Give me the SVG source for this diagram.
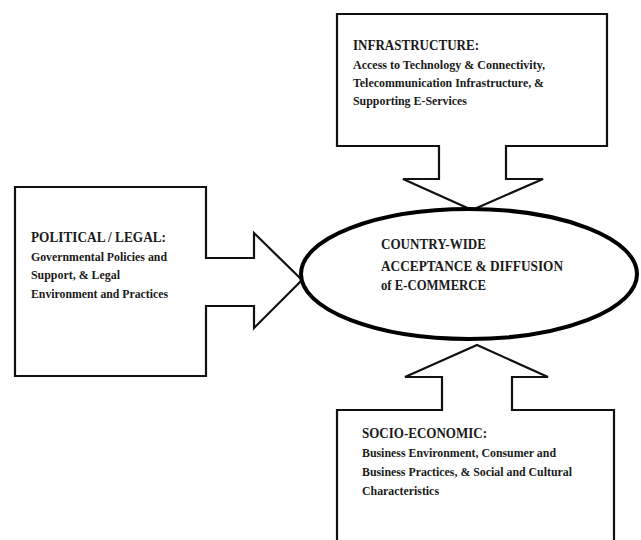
<svg xmlns="http://www.w3.org/2000/svg" width="641" height="540" viewBox="0 0 641 540">
<style>
.box{fill:#fff;stroke:#111;stroke-width:2.2;stroke-linejoin:miter}
.ell{fill:none;stroke:#000;stroke-width:4}
text{font-family:"Liberation Serif","Times New Roman",serif;font-weight:bold;fill:#1a1a1a}
.t{font-size:14px}
.s{font-size:12px}
.c{font-size:15px}
</style>
<rect width="641" height="540" fill="#fff"/>
<g id="connectors"></g>
<g id="infrastructure">
<path class="box" d="M337,14 H607 V146 H506 V179 H543 L472,210 L403,179 H439 V146 H337 Z"/>
<text class="t" x="353" y="50" textLength="126" lengthAdjust="spacingAndGlyphs">INFRASTRUCTURE:</text>
<text class="s" x="353" y="69" textLength="192" lengthAdjust="spacingAndGlyphs">Access to Technology &amp; Connectivity,</text>
<text class="s" x="353" y="87" textLength="191" lengthAdjust="spacingAndGlyphs">Telecommunication Infrastructure, &amp;</text>
<text class="s" x="353" y="105" textLength="114" lengthAdjust="spacingAndGlyphs">Supporting E-Services</text>
</g>
<g id="political">
<path class="box" d="M15,187 H206 V258 H254 V233 L302,280 L254,328 V306 H206 V376 H15 Z"/>
<text class="t" x="31" y="242" textLength="135" lengthAdjust="spacingAndGlyphs">POLITICAL / LEGAL:</text>
<text class="s" x="31" y="261" textLength="136" lengthAdjust="spacingAndGlyphs">Governmental Policies and</text>
<text class="s" x="31" y="279" textLength="89" lengthAdjust="spacingAndGlyphs">Support, &amp; Legal</text>
<text class="s" x="31" y="298" textLength="137" lengthAdjust="spacingAndGlyphs">Environment and Practices</text>
</g>
<g id="socioeconomic">
<path class="box" d="M337,545 V410 H442 V377 H405 L477,345 L548,377 H512 V410 H614 V545"/>
<text class="t" x="362" y="438" textLength="125" lengthAdjust="spacingAndGlyphs">SOCIO-ECONOMIC:</text>
<text class="s" x="362" y="457" textLength="194" lengthAdjust="spacingAndGlyphs">Business Environment, Consumer and</text>
<text class="s" x="362" y="476" textLength="210" lengthAdjust="spacingAndGlyphs">Business Practices, &amp; Social and Cultural</text>
<text class="s" x="362" y="495" textLength="77" lengthAdjust="spacingAndGlyphs">Characteristics</text>
</g>
<g id="ecommerce">
<ellipse class="ell" cx="469" cy="274" rx="168" ry="65"/>
<text class="c" x="381" y="249" textLength="105" lengthAdjust="spacingAndGlyphs">COUNTRY-WIDE</text>
<text class="c" x="381" y="271" textLength="182" lengthAdjust="spacingAndGlyphs">ACCEPTANCE  &amp;  DIFFUSION</text>
<text class="c" x="381" y="290" textLength="105" lengthAdjust="spacingAndGlyphs">of E-COMMERCE</text>
</g>
</svg>
